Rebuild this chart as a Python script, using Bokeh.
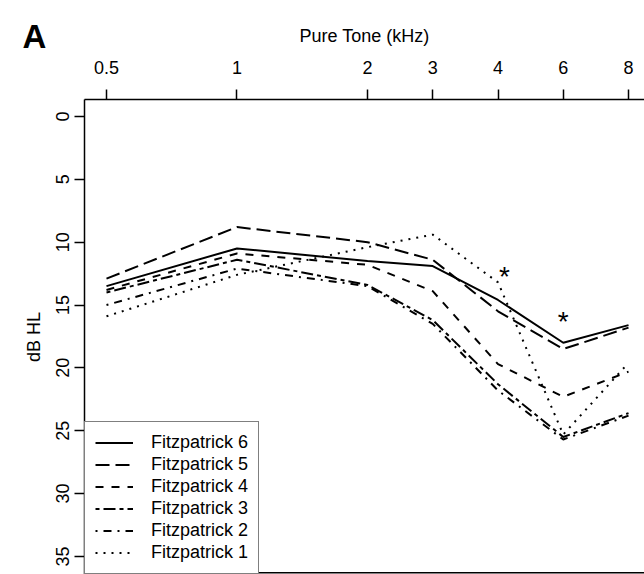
from bokeh.plotting import figure
from bokeh.models import FixedTicker, Range1d, Span, Legend, LegendItem
from bokeh.core.properties import value
from bokeh.embed import file_html
from bokeh.resources import INLINE

# ---- data ----
freq_labels = ["0.5", "1", "2", "3", "4", "6", "8"]
x_pos = [0, 2, 4, 5, 6, 7, 8]
fitz6 = [13.5, 10.5, 11.5, 11.9, 14.6, 18.0, 16.6]
fitz5 = [12.9, 8.8, 10.0, 11.4, 15.5, 18.5, 16.8]
fitz4 = [13.8, 10.9, 11.8, 13.9, 19.7, 22.3, 20.3]
fitz3 = [14.0, 11.4, 13.4, 16.2, 21.3, 25.5, 23.6]
fitz2 = [15.0, 12.1, 13.5, 16.5, 21.8, 25.7, 23.8]
fitz1 = [15.9, 12.6, 10.4, 9.4, 13.2, 25.3, 19.6]
series_names = ["Fitzpatrick 6", "Fitzpatrick 5", "Fitzpatrick 4",
                "Fitzpatrick 3", "Fitzpatrick 2", "Fitzpatrick 1"]
y_ticks = [0, 5, 10, 15, 20, 25, 30, 35]
star_x = [6.1, 7.0]
star_y = [12.7, 16.3]

FONT = "Liberation Sans"
x_start, x_end = -0.337, 8.245
y_top, y_bottom = -1.35, 36.44
y_box_bottom = 36.3

p = figure(width=644, height=574, output_backend="svg", toolbar_location=None,
           x_axis_location="above",
           x_range=Range1d(x_start, x_end), y_range=Range1d(y_bottom, y_top),
           min_border_left=84, min_border_top=99, min_border_right=0, min_border_bottom=0)
p.outline_line_color = None
p.grid.visible = False
p.background_fill_color = "white"
p.border_fill_color = "white"

# panel letter as the plot title, pulled down beside the axis title
p.title.text = "A"
p.title.align = "left"
p.title.offset = -62
p.title.standoff = -65
p.title.vertical_align = "bottom"
p.title.text_baseline = "top"
p.title.text_font = FONT
p.title.text_font_size = "33px"
p.title.text_font_style = "bold"
p.title.text_color = "black"

dashes = ["solid", "14 6", "8 8", "4 4 12 4", "2 6 8 6", "2 6"]
data = [fitz6, fitz5, fitz4, fitz3, fitz2, fitz1]
items = []
for name, ys, d in zip(series_names, data, dashes):
    r = p.line(x_pos, ys, line_color="black", line_width=2, line_dash=d)
    items.append(LegendItem(label=name, renderers=[r]))

p.text(x=star_x, y=star_y, text=["*", "*"], text_font=value(FONT),
       text_font_size="28px", text_align="center", text_baseline="middle",
       text_color="black")

# x axis (top)
xa = p.xaxis[0]
xa.ticker = FixedTicker(ticks=x_pos)
xa.major_label_overrides = {x: l for x, l in zip(x_pos, freq_labels)}
xa.minor_tick_line_color = None
xa.major_tick_in = 0
xa.major_tick_out = 10
xa.major_label_standoff = 16
xa.axis_line_color = "black"
xa.axis_line_width = 1.5
xa.major_tick_line_width = 1.5
xa.major_label_text_font = FONT
xa.major_label_text_font_size = "18px"
xa.major_label_text_color = "black"
xa.axis_label = "Pure Tone (kHz)"
xa.axis_label_text_font = FONT
xa.axis_label_text_font_size = "18px"
xa.axis_label_text_font_style = "normal"
xa.axis_label_text_color = "black"
xa.axis_label_standoff = 12

ya = p.yaxis[0]
ya.ticker = FixedTicker(ticks=y_ticks)
ya.minor_tick_line_color = None
ya.major_tick_in = 0
ya.major_tick_out = 10
ya.major_label_standoff = 5
ya.major_label_orientation = "vertical"
ya.axis_line_color = "black"
ya.axis_line_width = 1.5
ya.major_tick_line_width = 1.5
ya.major_label_text_font = FONT
ya.major_label_text_font_size = "18px"
ya.major_label_text_color = "black"
ya.axis_label = "dB HL"
ya.axis_label_text_font = FONT
ya.axis_label_text_font_size = "18px"
ya.axis_label_text_font_style = "normal"
ya.axis_label_text_color = "black"
ya.axis_label_standoff = 10

p.add_layout(Span(location=y_box_bottom, dimension="width", line_color="black", line_width=1.5))

legend = Legend(items=items, location="bottom_left", margin=0,
                border_line_color="black", border_line_width=1.5,
                padding=10, spacing=1, label_height=21, glyph_height=21, glyph_width=38,
                label_standoff=18, label_text_font=FONT, label_text_font_size="18px",
                label_text_color="black", background_fill_alpha=1.0)
p.add_layout(legend)

open("out.html", "w").write(file_html(p, INLINE))
